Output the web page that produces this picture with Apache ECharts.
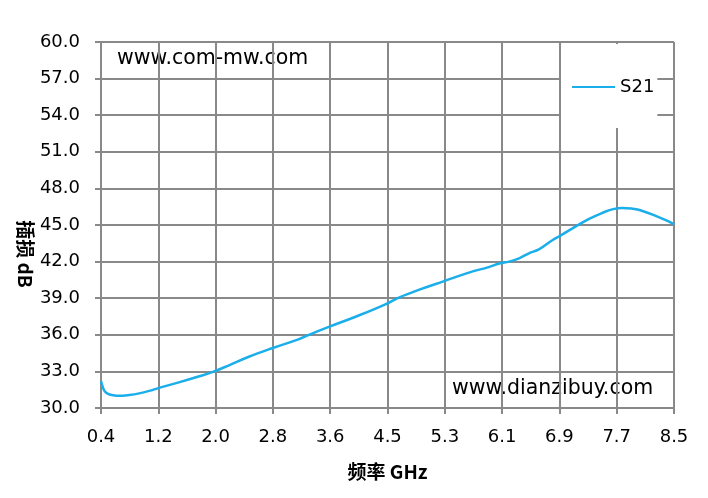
<!DOCTYPE html>
<html>
<head>
<meta charset="utf-8">
<script src="https://cdn.jsdelivr.net/npm/echarts@6/dist/echarts.min.js"></script>
<style>
html,body{margin:0;padding:0;background:#fff;}
#chart{width:708px;height:498px;}
</style>
</head>
<body>
<div id="chart"></div>
<script>
// Frequency (GHz) and S21 insertion loss (dB)
var freqGHz = [0.40,0.42,0.45,0.50,0.57,0.65,0.80,0.94,1.08,1.22,1.50,1.79,2.00,2.21,2.49,2.82,3.20,3.34,3.62,4.05,4.42,4.61,4.90,5.25,5.60,5.88,6.03,6.17,6.31,6.45,6.59,6.78,6.90,7.16,7.30,7.49,7.64,7.77,7.90,8.00,8.24,8.40,8.50];
var s21dB   = [32.2,31.8,31.4,31.15,31.05,31.0,31.07,31.2,31.4,31.65,32.1,32.6,33.0,33.5,34.2,34.9,35.65,36.0,36.65,37.6,38.5,39.05,39.7,40.4,41.1,41.55,41.85,42.0,42.27,42.68,43.0,43.75,44.15,45.05,45.5,46.0,46.3,46.4,46.35,46.25,45.75,45.35,45.05];
var xTickValues = [0.4,1.21,2.02,2.83,3.64,4.45,5.26,6.07,6.88,7.69,8.5];
var xTickLabels = ['0.4','1.2','2.0','2.8','3.6','4.5','5.3','6.1','6.9','7.7','8.5'];
var seriesName = 'S21';
var xTitle = '频率 GHz';
var yTitle = '插损 dB';
var watermark1 = 'www.com-mw.com';
var watermark2 = 'www.dianzibuy.com';

var gridColor = '#898989';
var lineColor = '#1AAEEB';
var font = 'DejaVu Sans';

var data = freqGHz.map(function(f, i){ return [f, s21dB[i]]; });

var chart = echarts.init(document.getElementById('chart'), null, {renderer:'canvas'});
chart.setOption({
  animation: false,
  backgroundColor: '#fff',
  grid: {left: 101, right: 34, top: 42, bottom: 90, containLabel: false},
  legend: {
    data: [{name: seriesName, icon: 'rect'}],
    left: 561, top: 44,
    padding: [34, 3, 32, 11],
    backgroundColor: '#fff',
    itemWidth: 43, itemHeight: 2, itemGap: 0,
    textStyle: {fontFamily: font, fontSize: 18, color: '#000'}
  },
  xAxis: {
    type: 'value', min: 0.4, max: 8.5,
    name: xTitle, nameLocation: 'middle', nameGap: 54,
    nameTextStyle: {fontFamily: 'Noto Sans CJK SC', fontWeight: 'bold', fontSize: 19, color: '#000'},
    axisLine: {show: true, lineStyle: {color: gridColor, width: 2}},
    axisTick: {show: true, length: 6, customValues: xTickValues, lineStyle: {color: gridColor, width: 2}},
    axisLabel: {
      customValues: xTickValues, margin: 20,
      fontFamily: font, fontSize: 18, color: '#000',
      formatter: function(v){
        var best = 0;
        for (var i = 0; i < xTickValues.length; i++) {
          if (Math.abs(xTickValues[i] - v) < Math.abs(xTickValues[best] - v)) best = i;
        }
        return xTickLabels[best];
      }
    },
    splitLine: {show: true, lineStyle: {color: gridColor, width: 2}}
  },
  yAxis: {
    type: 'value', min: 30, max: 60, interval: 3,
    axisLine: {show: true, lineStyle: {color: gridColor, width: 2}},
    axisTick: {show: true, length: 6, lineStyle: {color: gridColor, width: 2}},
    axisLabel: {margin: 21, fontFamily: font, fontSize: 18, color: '#000',
      formatter: function(v){ return v.toFixed(1); }},
    splitLine: {show: true, lineStyle: {color: gridColor, width: 2}}
  },
  graphic: [
    {type: 'text', x: 117, y: 59, silent: true,
     style: {text: watermark1, font: '20.5px "DejaVu Sans"', fill: '#000', textAlign: 'left', textVerticalAlign: 'middle'}},
    {type: 'text', x: 452, y: 389, silent: true,
     style: {text: watermark2, font: '20.5px "DejaVu Sans"', fill: '#000', textAlign: 'left', textVerticalAlign: 'middle'}},
    {type: 'text', x: 25, y: 254, rotation: -Math.PI/2, silent: true,
     style: {text: yTitle, font: 'bold 19px "Noto Sans CJK SC"', fill: '#000', textAlign: 'center', textVerticalAlign: 'middle'}}
  ],
  series: [{
    name: seriesName, type: 'line', data: data,
    symbol: 'none', smooth: 0.4,
    lineStyle: {color: lineColor, width: 2.5},
    itemStyle: {color: lineColor},
    z: 3
  }]
});
</script>
</body>
</html>
